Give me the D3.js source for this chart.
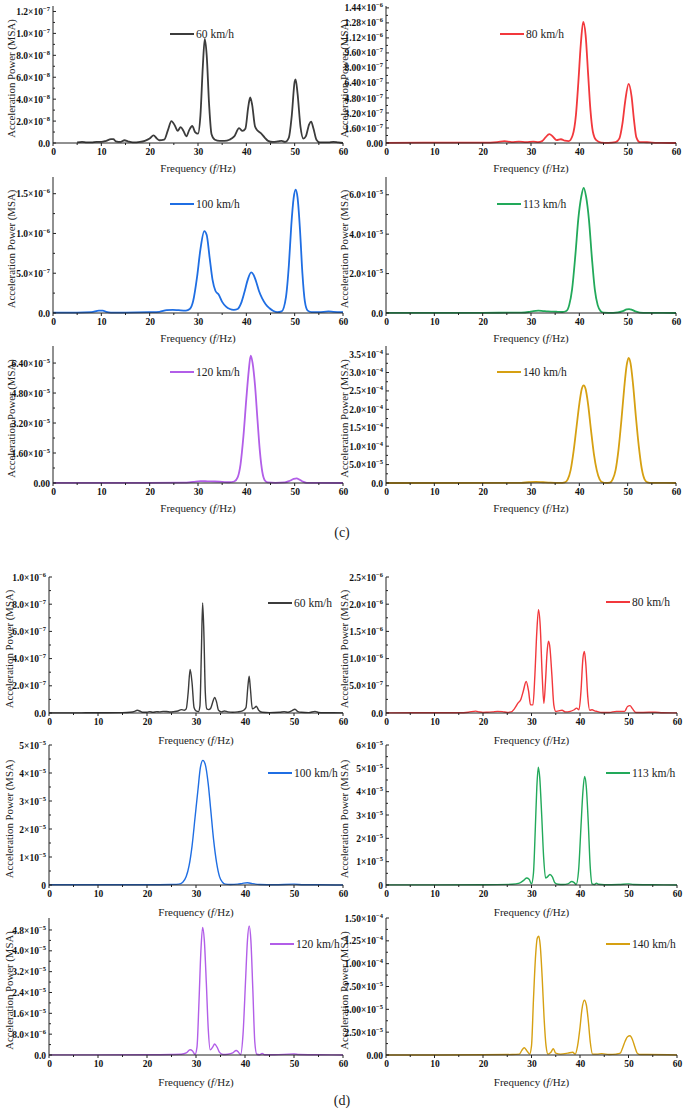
<!DOCTYPE html>
<html><head><meta charset="utf-8">
<script src="https://cdn.jsdelivr.net/npm/d3@7"></script>
<style>body{margin:0;background:#fff}svg{display:block}</style>
</head><body><svg id="chart" width="685" height="1115"></svg>
<script>
// ---------- data ----------
const freqTicks = [0, 10, 20, 30, 40, 50, 60];
const freqMinor = [5, 15, 25, 35, 45, 55];
const speedLabels = ["60 km/h", "80 km/h", "100 km/h", "113 km/h", "120 km/h", "140 km/h"];
const speedColors = ["#3c3c3c", "#f2383c", "#1f6ee3", "#22a95a", "#b25ee8", "#d6a012"];
const figureLabels = ["(c)", "(d)"];

// (c) series — [frequency Hz, value in unit]
const c60Unit = 1e-8;
const c60 = [[5,0.05],[6,0.1],[7,0.05],[8,0.05],[9,0.1],[10,0.1],[11,0.2],[12,0.35],[12.5,0.35],[13,0.15],[14,0.1],[14.8,0.25],[15.5,0.15],[16.5,0.05],[18,0.1],[19,0.2],[20,0.4],[20.8,0.7],[21.5,0.4],[22,0.25],[23,0.3],[23.8,1.2],[24.5,2.0],[25.2,1.6],[25.8,1.1],[26.4,1.45],[27,1.1],[27.6,0.6],[28.2,1.2],[28.8,1.55],[29.4,1.0],[30,0.85],[30.5,2.5],[31,7.0],[31.4,9.5],[31.8,8.0],[32.3,3.5],[32.8,0.8],[33.5,0.3],[34.5,0.2],[35.5,0.2],[36.5,0.3],[37.5,0.6],[38.5,1.35],[39.2,1.1],[39.8,1.3],[40.4,3.3],[40.8,4.15],[41.2,3.5],[41.8,1.5],[42.4,1.1],[43,0.9],[43.8,0.5],[44.5,0.2],[45.5,0.1],[46.5,0.15],[47.3,0.2],[48,0.1],[48.8,0.5],[49.4,2.5],[50,5.6],[50.2,5.8],[50.6,4.5],[51.2,1.5],[51.8,0.4],[52.3,0.6],[53,1.7],[53.4,1.95],[53.9,1.3],[54.5,0.3],[55.2,0.05],[56,0.05],[57,0.05],[58,0.1],[59,0.05],[60,0]];
const c80Unit = 1e-7;
const c80 = [[0,0.02],[8,0.03],[15,0.03],[20,0.04],[23,0.1],[24.5,0.2],[26,0.1],[27.5,0.15],[29,0.1],[30.5,0.15],[31.5,0.1],[32.3,0.2],[33,0.6],[33.8,0.95],[34.5,0.7],[35.3,0.3],[36.2,0.4],[37,0.25],[37.8,0.2],[38.6,0.8],[39.3,3],[39.8,6.5],[40.3,10.5],[40.8,12.9],[41.3,11.5],[41.8,7.5],[42.3,3.5],[42.8,1.2],[43.5,0.3],[44.5,0.05],[46,0.02],[47.5,0.1],[48.3,0.5],[48.9,2.0],[49.5,4.5],[50.2,6.3],[50.8,5.0],[51.3,2.5],[51.8,0.6],[52.5,0.1],[54,0.08],[55,0.05],[57,0.02],[60,0]];
const c100Unit = 1e-7;
const c100 = [[0,0.05],[5,0.05],[8,0.1],[9.5,0.3],[10.3,0.3],[11,0.15],[12,0.05],[15,0.05],[20,0.1],[22,0.15],[23.5,0.35],[24.8,0.4],[26,0.35],[27.5,0.3],[28.3,0.5],[29,1.5],[29.8,4.5],[30.5,8.0],[31.3,10.3],[31.8,9.8],[32.4,7.0],[33,4.2],[33.6,2.8],[34.3,2.3],[35,1.4],[35.8,0.8],[36.6,0.5],[37.4,0.4],[38.2,0.5],[38.9,1.2],[39.6,2.6],[40.3,4.2],[41,5.1],[41.5,4.8],[42,4.0],[42.6,2.8],[43.3,1.8],[44,1.1],[44.8,0.6],[45.6,0.25],[46.4,0.1],[47.3,0.2],[48.2,2],[48.8,6],[49.3,11],[49.8,14.5],[50.2,15.5],[50.6,14.5],[51.1,10.5],[51.6,5],[52.1,1.5],[52.7,0.3],[53.5,0.1],[55,0.1],[57,0.2],[58,0.15],[60,0.1]];
const c113Unit = 1e-6;
const c113 = [[0,0.05],[20,0.1],[28,0.2],[29.5,0.5],[30.5,1.0],[31.5,1.2],[32.5,1.0],[33.5,0.8],[34.5,0.7],[35.5,0.6],[36.5,0.5],[37.3,1],[37.9,4],[38.5,12],[39.2,30],[39.8,48],[40.4,59],[40.9,63.5],[41.4,59],[42,47],[42.6,28],[43.2,12],[43.8,4],[44.4,1],[45,0.2],[47,0.1],[48,0.3],[49,1.0],[49.8,1.8],[50.3,2.0],[50.9,1.6],[51.6,0.8],[52.5,0.2],[54,0.05],[60,0]];
const c120Unit = 1e-6;
const c120 = [[0,0.02],[20,0.05],[27,0.2],[29,0.6],[30.5,1.0],[32,0.9],[33.5,0.8],[35,0.6],[36.5,0.4],[37.5,0.8],[38.2,3],[38.8,10],[39.4,25],[40,45],[40.5,60],[40.9,68],[41.3,64],[41.8,52],[42.3,34],[42.8,17],[43.3,6],[43.8,1.5],[44.4,0.3],[46,0.05],[48,0.3],[49,1.2],[49.8,2.2],[50.4,2.5],[51,1.8],[51.7,0.7],[52.5,0.1],[60,0]];
const c140Unit = 1e-5;
const c140 = [[0,0],[28,0.05],[29.5,0.2],[31,0.3],[32.5,0.2],[34,0.1],[36,0.05],[37,0.2],[37.6,1],[38.2,3.5],[38.8,8.5],[39.4,15],[40,21.5],[40.5,25.5],[40.9,26.5],[41.3,25.5],[41.8,21.5],[42.4,14.5],[43,8],[43.6,3.5],[44.2,1],[44.8,0.2],[45.5,0.05],[46.3,0.1],[46.9,1],[47.5,3.5],[48.1,9],[48.7,17],[49.3,26],[49.8,32],[50.2,34],[50.6,32.5],[51.1,27],[51.7,18],[52.3,10],[52.9,4],[53.5,1],[54.1,0.2],[55,0.05],[60,0]];

// (d) series
const d60Unit = 1e-8;
const d60 = [[0,0.1],[5,0.1],[10,0.2],[12,0.2],[15,0.3],[16.5,0.5],[17.5,1.2],[18,2.0],[18.5,1.5],[19.2,0.5],[20,0.6],[20.6,1.0],[21.2,0.5],[22,1.0],[22.5,0.8],[23.3,1.2],[24,1.1],[24.8,0.7],[25.5,1.0],[26.3,1.5],[27,2.5],[27.6,2.0],[28,3],[28.4,15],[28.8,32],[29.2,22],[29.6,4],[30,1.5],[30.5,1.0],[30.8,5],[31.1,45],[31.35,81],[31.6,60],[31.9,15],[32.2,3],[32.6,2.5],[33,3.5],[33.5,9],[33.8,11.5],[34.2,8],[34.6,2],[35.2,0.8],[35.8,1.5],[36.5,0.8],[37.5,0.5],[38.5,0.8],[39.5,1.5],[40.2,4],[40.6,20],[40.85,27],[41.1,18],[41.5,3],[42,4],[42.3,5],[42.8,2],[43.5,0.5],[45,0.3],[47,0.5],[48,1.0],[48.8,0.5],[49.5,1.5],[50.2,2.8],[50.8,1.0],[51.5,0.5],[53,0.3],[54.3,1.2],[55,0.4],[56,0.2],[58,0.2],[60,0.1]];
const d80Unit = 1e-7;
const d80 = [[0,0.02],[10,0.05],[15,0.05],[17,0.15],[18.5,0.35],[19.2,0.2],[20,0.1],[21,0.15],[22,0.2],[23,0.3],[24,0.25],[25,0.1],[25.8,0.2],[26.5,0.8],[27.2,1.8],[27.8,2.5],[28.3,4],[28.9,5.8],[29.4,4],[29.8,1.5],[30.3,1.5],[30.7,7],[31.1,15],[31.45,19],[31.8,16],[32.2,7],[32.55,1.8],[32.9,6],[33.2,11],[33.5,13.2],[33.8,12],[34.2,7],[34.6,1.5],[35,0.3],[35.6,0.4],[36.3,0.5],[37,0.2],[38,0.3],[38.8,0.6],[39.3,0.9],[39.8,0.6],[40.2,4],[40.6,10],[40.9,11.3],[41.2,9],[41.6,3],[42,0.5],[42.5,0.6],[43,0.4],[43.5,0.3],[44.5,0.1],[46,0.1],[47.5,0.3],[48.3,0.3],[49.2,0.3],[49.8,1.2],[50.3,1.35],[50.8,0.8],[51.5,0.1],[53,0.1],[55.5,0.15],[57,0.05],[60,0.02]];
const d100Unit = 1e-6;
const d100 = [[0,0.1],[10,0.1],[20,0.1],[25,0.2],[26.5,0.3],[27.3,1],[28,3],[28.6,7],[29.2,14],[29.8,24],[30.4,34],[30.9,42],[31.4,44.5],[31.9,43],[32.5,36],[33,27],[33.6,16],[34.2,8],[34.8,3],[35.4,1],[36,0.3],[37,0.2],[38.5,0.3],[39.5,0.6],[40.5,0.8],[41.5,0.5],[43,0.2],[46,0.1],[50,0.3],[52,0.1],[55,0.1],[60,0]];
const d113Unit = 1e-6;
const d113 = [[0,0.05],[20,0.1],[26,0.3],[27.5,0.8],[28.5,2.2],[29,3],[29.5,2.5],[30,0.5],[30.4,5],[30.8,25],[31.1,42],[31.4,50.5],[31.7,46],[32.1,30],[32.5,12],[32.9,3],[33.3,3.5],[33.8,4.5],[34.3,3.5],[34.8,1.0],[35.5,0.3],[36.5,0.2],[37.5,0.5],[38.3,1.5],[38.8,1.0],[39.2,0.2],[39.7,6],[40.2,25],[40.6,40],[40.95,46.5],[41.3,42],[41.7,27],[42.1,8],[42.5,0.5],[43,0.2],[43.4,0.8],[43.8,0.3],[45,0.1],[48,0.2],[50,0.5],[51,0.2],[55,0.1],[60,0]];
const d120Unit = 1e-6;
const d120 = [[0,0.05],[20,0.1],[25,0.2],[27,0.3],[28,0.8],[28.8,2],[29.3,1.5],[29.8,0.2],[30.2,3],[30.6,20],[31,40],[31.35,49],[31.7,44],[32.1,28],[32.5,10],[32.9,2],[33.4,3],[33.8,4.2],[34.3,3],[34.8,1],[35.5,0.2],[36.5,0.3],[37.5,0.8],[38.2,1.7],[38.7,1.0],[39.1,0.2],[39.6,8],[40.1,28],[40.5,44],[40.85,49.5],[41.2,44],[41.6,25],[42,5],[42.4,0.3],[43,0.1],[43.5,0.6],[44,0.1],[46,0.1],[50,0.4],[51,0.2],[55,0.1],[60,0]];
const d140Unit = 1e-5;
const d140 = [[0,0],[20,0.02],[26,0.05],[27.5,0.1],[28,0.5],[28.5,0.8],[29,0.5],[29.6,0.1],[30,1],[30.4,6],[30.8,10.5],[31.2,12.8],[31.5,13],[31.8,12],[32.2,8.5],[32.6,4],[33,1],[33.4,0.1],[34,0.3],[34.5,0.7],[35,0.2],[36,0.1],[37.5,0.2],[38.5,0.3],[39,0.1],[39.5,1],[40,3],[40.4,5],[40.9,6],[41.3,5.5],[41.7,3.8],[42.1,1.5],[42.6,0.1],[43.5,0.1],[44.5,0.15],[46,0.05],[47.5,0.1],[48.3,0.2],[48.8,0.8],[49.3,1.5],[49.8,2],[50.3,2.1],[50.8,1.7],[51.3,0.9],[51.8,0.2],[52.5,0.05],[54,0.05],[60,0]];

// y tick labels (mantissa×10^exponent)
const c60Ticks = ["0.0","2.0×10^-8","4.0×10^-8","6.0×10^-8","8.0×10^-8","1.0×10^-7","1.2×10^-7"];
const c80Ticks = ["0.00","1.60×10^-7","3.20×10^-7","4.80×10^-7","6.40×10^-7","8.00×10^-7","9.60×10^-7","1.12×10^-6","1.28×10^-6","1.44×10^-6"];
const c100Ticks = ["0.0","5.0×10^-7","1.0×10^-6","1.5×10^-6"];
const c113Ticks = ["0.0","2.0×10^-5","4.0×10^-5","6.0×10^-5"];
const c120Ticks = ["0.00","1.60×10^-5","3.20×10^-5","4.80×10^-5","6.40×10^-5"];
const c140Ticks = ["0.0","5.0×10^-5","1.0×10^-4","1.5×10^-4","2.0×10^-4","2.5×10^-4","3.0×10^-4","3.5×10^-4"];
const d60Ticks = ["0.0","2.0×10^-7","4.0×10^-7","6.0×10^-7","8.0×10^-7","1.0×10^-6"];
const d80Ticks = ["0.0","5.0×10^-7","1.0×10^-6","1.5×10^-6","2.0×10^-6","2.5×10^-6"];
const d100Ticks = ["0","1×10^-5","2×10^-5","3×10^-5","4×10^-5","5×10^-5"];
const d113Ticks = ["0","1×10^-5","2×10^-5","3×10^-5","4×10^-5","5×10^-5","6×10^-5"];
const d120Ticks = ["0.0","8.0×10^-6","1.6×10^-5","2.4×10^-5","3.2×10^-5","4.0×10^-5","4.8×10^-5"];
const d140Ticks = ["0.00","2.50×10^-5","5.00×10^-5","7.50×10^-5","1.00×10^-4","1.25×10^-4","1.50×10^-4"];

// y-axis upper limits
const cMax = [1.25e-7, 1.46e-6, 1.71e-6, 6.9e-5, 7.31e-5, 3.72e-4];
const dMax = [1e-6, 2.5e-6, 5e-5, 6e-5, 5.26e-5, 1.5e-4];

// ---------- layout ----------
const cols = {cL:[53,343], cR:[386,676], dL:[49,343], dR:[386,677]};
const rows = {c1:[6,143], c2:[177,313], c3:[346,483], d1:[577,713], d2:[745,885], d3:[918,1055]};
const legendPos = [
  [170,34],[500,34],[170,204],[497,204],[170,372],[497,372],
  [268,603],[606,602],[268,773],[606,773],[270,944],[606,944]
];

const panels = [
  {data:c60, unit:c60Unit, ticks:c60Ticks, max:cMax[0], s:0, col:cols.cL, row:rows.c1},
  {data:c80, unit:c80Unit, ticks:c80Ticks, max:cMax[1], s:1, col:cols.cR, row:rows.c1},
  {data:c100, unit:c100Unit, ticks:c100Ticks, max:cMax[2], s:2, col:cols.cL, row:rows.c2},
  {data:c113, unit:c113Unit, ticks:c113Ticks, max:cMax[3], s:3, col:cols.cR, row:rows.c2},
  {data:c120, unit:c120Unit, ticks:c120Ticks, max:cMax[4], s:4, col:cols.cL, row:rows.c3},
  {data:c140, unit:c140Unit, ticks:c140Ticks, max:cMax[5], s:5, col:cols.cR, row:rows.c3},
  {data:d60, unit:d60Unit, ticks:d60Ticks, max:dMax[0], s:0, col:cols.dL, row:rows.d1},
  {data:d80, unit:d80Unit, ticks:d80Ticks, max:dMax[1], s:1, col:cols.dR, row:rows.d1},
  {data:d100, unit:d100Unit, ticks:d100Ticks, max:dMax[2], s:2, col:cols.dL, row:rows.d2},
  {data:d113, unit:d113Unit, ticks:d113Ticks, max:dMax[3], s:3, col:cols.dR, row:rows.d2},
  {data:d120, unit:d120Unit, ticks:d120Ticks, max:dMax[4], s:4, col:cols.dL, row:rows.d3},
  {data:d140, unit:d140Unit, ticks:d140Ticks, max:dMax[5], s:5, col:cols.dR, row:rows.d3}
];

const svg = d3.select("#chart");
const serif = "'Liberation Serif','Times New Roman',serif";

function parseTick(t){
  const [m, e] = t.split("×10^");
  return e === undefined ? {v:+m, m, e:null} : {v:+m * Math.pow(10, +e), m, e};
}

panels.forEach((p, i) => {
  const x = d3.scaleLinear().domain([0, 60]).range(p.col);
  const y = d3.scaleLinear().domain([0, p.max]).range([p.row[1], p.row[0]]);
  const g = svg.append("g");
  const isD = i >= 6;
  const isRight = p.col[0] > 200;

  // y title
  const ty = isRight ? 344 : (isD ? 9 : 11);
  g.append("text")
    .attr("transform", `translate(${ty},${(p.row[0]+p.row[1])/2 + 4}) rotate(-90)`)
    .attr("text-anchor","middle").attr("dominant-baseline","central")
    .attr("font-family", serif).attr("font-size", 10.8).attr("fill","#222")
    .text("Acceleration Power (MSA)");

  // x title
  const xt = g.append("text")
    .attr("x", (p.col[0]+p.col[1])/2).attr("y", p.row[1] + (isD ? 31 : 29))
    .attr("text-anchor","middle").attr("font-family", serif).attr("font-size", 11).attr("fill","#222");
  xt.append("tspan").text("Frequency (");
  xt.append("tspan").attr("font-style","italic").text("f");
  xt.append("tspan").text("/Hz)");

  // curve
  const clipId = "clip" + i;
  svg.append("clipPath").attr("id", clipId).append("rect")
    .attr("x", p.col[0]).attr("y", p.row[0]-2).attr("width", p.col[1]-p.col[0]).attr("height", p.row[1]-p.row[0]+3);
  const line = d3.line().x(d => x(d[0])).y(d => y(d[1] * p.unit)).curve(d3.curveMonotoneX);
  g.append("path").datum(p.data).attr("clip-path", `url(#${clipId})`)
    .attr("d", line).attr("fill","none").attr("stroke", speedColors[p.s])
    .attr("stroke-width", isD ? 1.4 : 1.8).attr("stroke-linejoin","round");

  // axes
  const tv = p.ticks.map(parseTick);
  const minorY = tv.slice(1).map((t, k) => (t.v + tv[k].v) / 2);
  const xAxis = d3.axisBottom(x).tickValues(freqTicks).tickSize(0).tickPadding(5).tickFormat(d3.format("d"));
  const ax = g.append("g").attr("transform", `translate(0,${p.row[1]})`).call(xAxis);
  ax.select(".domain").remove();
  ax.selectAll("text").attr("font-family", serif).attr("font-weight","bold").attr("font-size", 9.5).attr("fill","#111");
  const yAxis = d3.axisLeft(y).tickValues(tv.map(t => t.v)).tickSize(0).tickPadding(3).tickFormat(() => "");
  const ay = g.append("g").attr("transform", `translate(${p.col[0]},0)`).call(yAxis);
  ay.select(".domain").remove();
  ay.selectAll(".tick text").each(function(d, k){
    const t = tv[k];
    const el = d3.select(this).attr("font-family", serif).attr("font-weight","bold").attr("font-size", 9.5).attr("fill","#111");
    el.append("tspan").text(t.e === null ? t.m : t.m + "×10");
    if (t.e !== null) el.append("tspan").attr("dy", -4).attr("font-size", 6.5).text(t.e.replace("-", "−"));
  });

  // axis lines and ticks
  const axisG = g.append("g").attr("stroke", "#222").attr("stroke-width", 1);
  axisG.append("line").attr("x1", p.col[0]).attr("x2", p.col[0]).attr("y1", p.row[0]).attr("y2", p.row[1]);
  axisG.append("line").attr("x1", p.col[0]).attr("x2", p.col[1]).attr("y1", p.row[1]).attr("y2", p.row[1]);
  axisG.selectAll(".xt").data(freqTicks).join("line")
    .attr("x1", d => x(d)).attr("x2", d => x(d)).attr("y1", p.row[1]).attr("y2", p.row[1] + 3);
  axisG.selectAll(".xm").data(freqMinor).join("line")
    .attr("x1", d => x(d)).attr("x2", d => x(d)).attr("y1", p.row[1]).attr("y2", p.row[1] + 2);
  axisG.selectAll(".yt").data(tv).join("line")
    .attr("x1", p.col[0]).attr("x2", p.col[0] + 3).attr("y1", d => y(d.v)).attr("y2", d => y(d.v));
  axisG.selectAll(".ym").data(minorY).join("line")
    .attr("x1", p.col[0]).attr("x2", p.col[0] + 2).attr("y1", d => y(d)).attr("y2", d => y(d));

  // legend
  const [lx, ly] = legendPos[i];
  g.append("line").attr("x1", lx).attr("x2", lx + 24).attr("y1", ly).attr("y2", ly)
    .attr("stroke", speedColors[p.s]).attr("stroke-width", 2);
  g.append("text").attr("x", lx + 26).attr("y", ly).attr("dominant-baseline","central")
    .attr("font-family", serif).attr("font-size", 11.5).attr("fill","#222").text(speedLabels[p.s]);
});

svg.append("text").attr("x", 342).attr("y", 532).attr("text-anchor","middle").attr("dominant-baseline","central")
  .attr("font-family", serif).attr("font-size", 14).attr("fill","#222").text(figureLabels[0]);
svg.append("text").attr("x", 342).attr("y", 1100).attr("text-anchor","middle").attr("dominant-baseline","central")
  .attr("font-family", serif).attr("font-size", 14).attr("fill","#222").text(figureLabels[1]);
</script></body></html>
